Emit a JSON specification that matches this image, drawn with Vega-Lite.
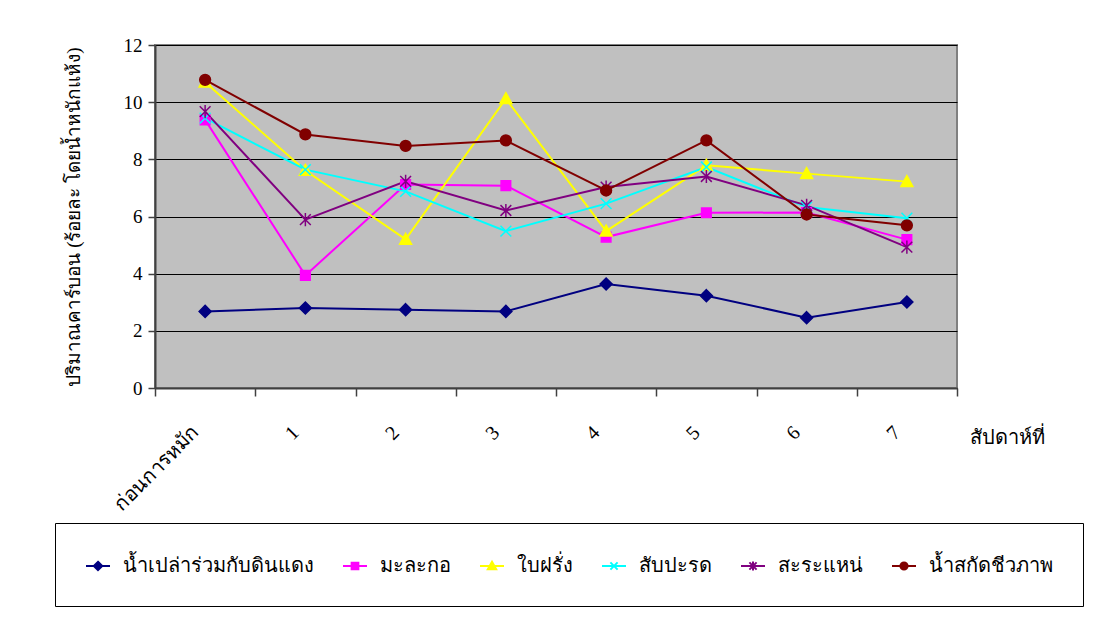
{
  "$schema": "https://vega.github.io/schema/vega-lite/v6.json",
  "width": 802,
  "height": 343,
  "autosize": {"type": "none"},
  "padding": {"left": 155, "top": 45, "right": 137, "bottom": 249},
  "background": "white",
  "config": {
    "view": {"fill": "#C0C0C0", "stroke": "#808080", "strokeWidth": 2},
    "axis": {"labelColor": "black", "titleColor": "black", "titleFontWeight": "normal"},
    "legend": {"labelColor": "black"}
  },
  "data": {
    "values": [
      {"week": "ก่อนการหมัก", "series": "น้ำเปล่าร่วมกับดินแดง", "value": 2.68},
      {"week": "1", "series": "น้ำเปล่าร่วมกับดินแดง", "value": 2.80},
      {"week": "2", "series": "น้ำเปล่าร่วมกับดินแดง", "value": 2.74},
      {"week": "3", "series": "น้ำเปล่าร่วมกับดินแดง", "value": 2.68},
      {"week": "4", "series": "น้ำเปล่าร่วมกับดินแดง", "value": 3.64},
      {"week": "5", "series": "น้ำเปล่าร่วมกับดินแดง", "value": 3.23},
      {"week": "6", "series": "น้ำเปล่าร่วมกับดินแดง", "value": 2.46},
      {"week": "7", "series": "น้ำเปล่าร่วมกับดินแดง", "value": 3.01},
      {"week": "ก่อนการหมัก", "series": "มะละกอ", "value": 9.38},
      {"week": "1", "series": "มะละกอ", "value": 3.94},
      {"week": "2", "series": "มะละกอ", "value": 7.12},
      {"week": "3", "series": "มะละกอ", "value": 7.08},
      {"week": "4", "series": "มะละกอ", "value": 5.28},
      {"week": "5", "series": "มะละกอ", "value": 6.13},
      {"week": "6", "series": "มะละกอ", "value": 6.14},
      {"week": "7", "series": "มะละกอ", "value": 5.19},
      {"week": "ก่อนการหมัก", "series": "ใบฝรั่ง", "value": 10.70},
      {"week": "1", "series": "ใบฝรั่ง", "value": 7.61},
      {"week": "2", "series": "ใบฝรั่ง", "value": 5.20},
      {"week": "3", "series": "ใบฝรั่ง", "value": 10.12},
      {"week": "4", "series": "ใบฝรั่ง", "value": 5.49},
      {"week": "5", "series": "ใบฝรั่ง", "value": 7.79},
      {"week": "6", "series": "ใบฝรั่ง", "value": 7.50},
      {"week": "7", "series": "ใบฝรั่ง", "value": 7.22},
      {"week": "ก่อนการหมัก", "series": "สับปะรด", "value": 9.44},
      {"week": "1", "series": "สับปะรด", "value": 7.64},
      {"week": "2", "series": "สับปะรด", "value": 6.88},
      {"week": "3", "series": "สับปะรด", "value": 5.49},
      {"week": "4", "series": "สับปะรด", "value": 6.45},
      {"week": "5", "series": "สับปะรด", "value": 7.73},
      {"week": "6", "series": "สับปะรด", "value": 6.33},
      {"week": "7", "series": "สับปะรด", "value": 5.94},
      {"week": "ก่อนการหมัก", "series": "สะระแหน่", "value": 9.67},
      {"week": "1", "series": "สะระแหน่", "value": 5.89},
      {"week": "2", "series": "สะระแหน่", "value": 7.23},
      {"week": "3", "series": "สะระแหน่", "value": 6.21},
      {"week": "4", "series": "สะระแหน่", "value": 7.03},
      {"week": "5", "series": "สะระแหน่", "value": 7.40},
      {"week": "6", "series": "สะระแหน่", "value": 6.39},
      {"week": "7", "series": "สะระแหน่", "value": 4.93},
      {"week": "ก่อนการหมัก", "series": "น้ำสกัดชีวภาพ", "value": 10.78},
      {"week": "1", "series": "น้ำสกัดชีวภาพ", "value": 8.87},
      {"week": "2", "series": "น้ำสกัดชีวภาพ", "value": 8.47},
      {"week": "3", "series": "น้ำสกัดชีวภาพ", "value": 8.66},
      {"week": "4", "series": "น้ำสกัดชีวภาพ", "value": 6.91},
      {"week": "5", "series": "น้ำสกัดชีวภาพ", "value": 8.66},
      {"week": "6", "series": "น้ำสกัดชีวภาพ", "value": 6.07},
      {"week": "7", "series": "น้ำสกัดชีวภาพ", "value": 5.69}
    ]
  },
  "encoding": {
    "x": {
      "field": "week",
      "type": "nominal",
      "sort": ["ก่อนการหมัก", "1", "2", "3", "4", "5", "6", "7"],
      "scale": {"type": "band", "paddingInner": 0, "paddingOuter": 0},
      "axis": {
        "title": "สัปดาห์ที่",
        "titleX": 852,
        "titleY": 49,
        "titleAngle": 0,
        "titleAlign": "center",
        "titleBaseline": "middle",
        "titleFont": "Liberation Serif",
        "titleFontSize": 20,
        "labelFont": "Liberation Serif",
        "labelFontSize": 20,
        "labelAngle": -45,
        "labelAlign": "right",
        "labelBaseline": "top",
        "labelPadding": 26,
        "labelOffset": -17,
        "tickBand": "extent",
        "tickSize": 8,
        "tickColor": "#404040",
        "tickWidth": 1.5,
        "domainColor": "#404040",
        "domainWidth": 2,
        "grid": false
      }
    },
    "y": {
      "field": "value",
      "type": "quantitative",
      "scale": {"domain": [0, 12], "nice": false},
      "axis": {
        "values": [0, 2, 4, 6, 8, 10, 12],
        "title": "ปริมาณคาร์บอน (ร้อยละ โดยน้ำหนักแห้ง)",
        "titleFont": "Liberation Serif",
        "titleFontSize": 19,
        "titlePadding": 40,
        "labelFont": "Liberation Serif",
        "labelFontSize": 19,
        "labelPadding": 6,
        "tickSize": 7,
        "tickColor": "#404040",
        "tickWidth": 1.5,
        "domainColor": "#404040",
        "domainWidth": 2,
        "grid": true,
        "gridColor": "black",
        "gridWidth": 1
      }
    }
  },
  "layer": [
    {
      "mark": {"type": "line", "strokeWidth": 2},
      "encoding": {
        "color": {
          "field": "series",
          "type": "nominal",
          "scale": {
            "domain": ["น้ำเปล่าร่วมกับดินแดง", "มะละกอ", "ใบฝรั่ง", "สับปะรด", "สะระแหน่", "น้ำสกัดชีวภาพ"],
            "range": ["#000080", "#FF00FF", "#FFFF00", "#00FFFF", "#800080", "#800000"]
          },
          "legend": null
        }
      }
    },
    {
      "mark": {"type": "point", "filled": true, "size": 144, "opacity": 1, "strokeWidth": 1.5},
      "encoding": {
        "color": {
          "field": "series",
          "type": "nominal",
          "scale": {
            "domain": ["น้ำเปล่าร่วมกับดินแดง", "มะละกอ", "ใบฝรั่ง", "สับปะรด", "สะระแหน่", "น้ำสกัดชีวภาพ"],
            "range": ["#000080", "#FF00FF", "#FFFF00", "#00FFFF", "#800080", "#800000"]
          },
          "legend": null
        },
        "stroke": {
          "field": "series",
          "type": "nominal",
          "scale": {
            "domain": ["น้ำเปล่าร่วมกับดินแดง", "มะละกอ", "ใบฝรั่ง", "สับปะรด", "สะระแหน่", "น้ำสกัดชีวภาพ"],
            "range": ["#000080", "#FF00FF", "#FFFF00", "#00FFFF", "#800080", "#800000"]
          },
          "legend": null
        },
        "shape": {
          "field": "series",
          "type": "nominal",
          "scale": {
            "domain": ["น้ำเปล่าร่วมกับดินแดง", "มะละกอ", "ใบฝรั่ง", "สับปะรด", "สะระแหน่", "น้ำสกัดชีวภาพ"],
            "range": [
              "M0,-1L1,0L0,1L-1,0Z",
              "M-0.8,-0.8H0.8V0.8H-0.8Z",
              "M0,-1L1,0.8L-1,0.8Z",
              "M-0.9,-0.9L0.9,0.9M-0.9,0.9L0.9,-0.9",
              "M-0.9,-0.9L0.9,0.9M-0.9,0.9L0.9,-0.9M0,-1.1L0,1.1",
              "M0.9,0A0.9,0.9 0 1,1 -0.9,0A0.9,0.9 0 1,1 0.9,0Z"
            ]
          },
          "legend": null
        }
      }
    },
    {
      "mark": {"type": "point", "filled": true, "opacity": 0, "size": 1},
      "encoding": {
        "color": {
          "field": "series",
          "type": "nominal",
          "scale": {
            "domain": ["น้ำเปล่าร่วมกับดินแดง", "มะละกอ", "ใบฝรั่ง", "สับปะรด", "สะระแหน่", "น้ำสกัดชีวภาพ"],
            "range": ["#000080", "#FF00FF", "#FFFF00", "#00FFFF", "#800080", "#800000"]
          },
          "legend": {
            "title": null,
            "orient": "none",
            "legendX": -100,
            "legendY": 478,
            "direction": "horizontal",
            "columns": 6,
            "strokeColor": "black",
            "padding": 30,
            "symbolSize": 576,
            "symbolStrokeWidth": 2,
            "symbolOpacity": 1,
            "labelFont": "Liberation Serif",
            "labelFontSize": 20,
            "labelLimit": 0,
            "labelOffset": 12,
            "columnPadding": 25
          }
        },
        "stroke": {
          "field": "series",
          "type": "nominal",
          "scale": {
            "domain": ["น้ำเปล่าร่วมกับดินแดง", "มะละกอ", "ใบฝรั่ง", "สับปะรด", "สะระแหน่", "น้ำสกัดชีวภาพ"],
            "range": ["#000080", "#FF00FF", "#FFFF00", "#00FFFF", "#800080", "#800000"]
          },
          "legend": {
            "title": null,
            "orient": "none",
            "legendX": -100,
            "legendY": 478,
            "direction": "horizontal",
            "columns": 6,
            "strokeColor": "black",
            "padding": 30,
            "symbolSize": 576,
            "symbolStrokeWidth": 2,
            "symbolOpacity": 1,
            "labelFont": "Liberation Serif",
            "labelFontSize": 20,
            "labelLimit": 0,
            "labelOffset": 12,
            "columnPadding": 25
          }
        },
        "shape": {
          "field": "series",
          "type": "nominal",
          "scale": {
            "domain": ["น้ำเปล่าร่วมกับดินแดง", "มะละกอ", "ใบฝรั่ง", "สับปะรด", "สะระแหน่", "น้ำสกัดชีวภาพ"],
            "range": [
              "M-1,0H1M0,-0.35L0.35,0L0,0.35L-0.35,0Z",
              "M-1,0H1M-0.28,-0.28H0.28V0.28H-0.28Z",
              "M-1,0H1M0,-0.35L0.35,0.28L-0.35,0.28Z",
              "M-1,0H1M-0.3,-0.3L0.3,0.3M-0.3,0.3L0.3,-0.3",
              "M-1,0H1M-0.3,-0.3L0.3,0.3M-0.3,0.3L0.3,-0.3M0,-0.38L0,0.38",
              "M-1,0H1M0.3,0A0.3,0.3 0 1,1 -0.3,0A0.3,0.3 0 1,1 0.3,0Z"
            ]
          },
          "legend": {
            "title": null,
            "orient": "none",
            "legendX": -100,
            "legendY": 478,
            "direction": "horizontal",
            "columns": 6,
            "strokeColor": "black",
            "padding": 30,
            "symbolSize": 576,
            "symbolStrokeWidth": 2,
            "symbolOpacity": 1,
            "labelFont": "Liberation Serif",
            "labelFontSize": 20,
            "labelLimit": 0,
            "labelOffset": 12,
            "columnPadding": 25
          }
        }
      }
    }
  ],
  "resolve": {"scale": {"color": "independent", "stroke": "independent", "shape": "independent"}}
}
